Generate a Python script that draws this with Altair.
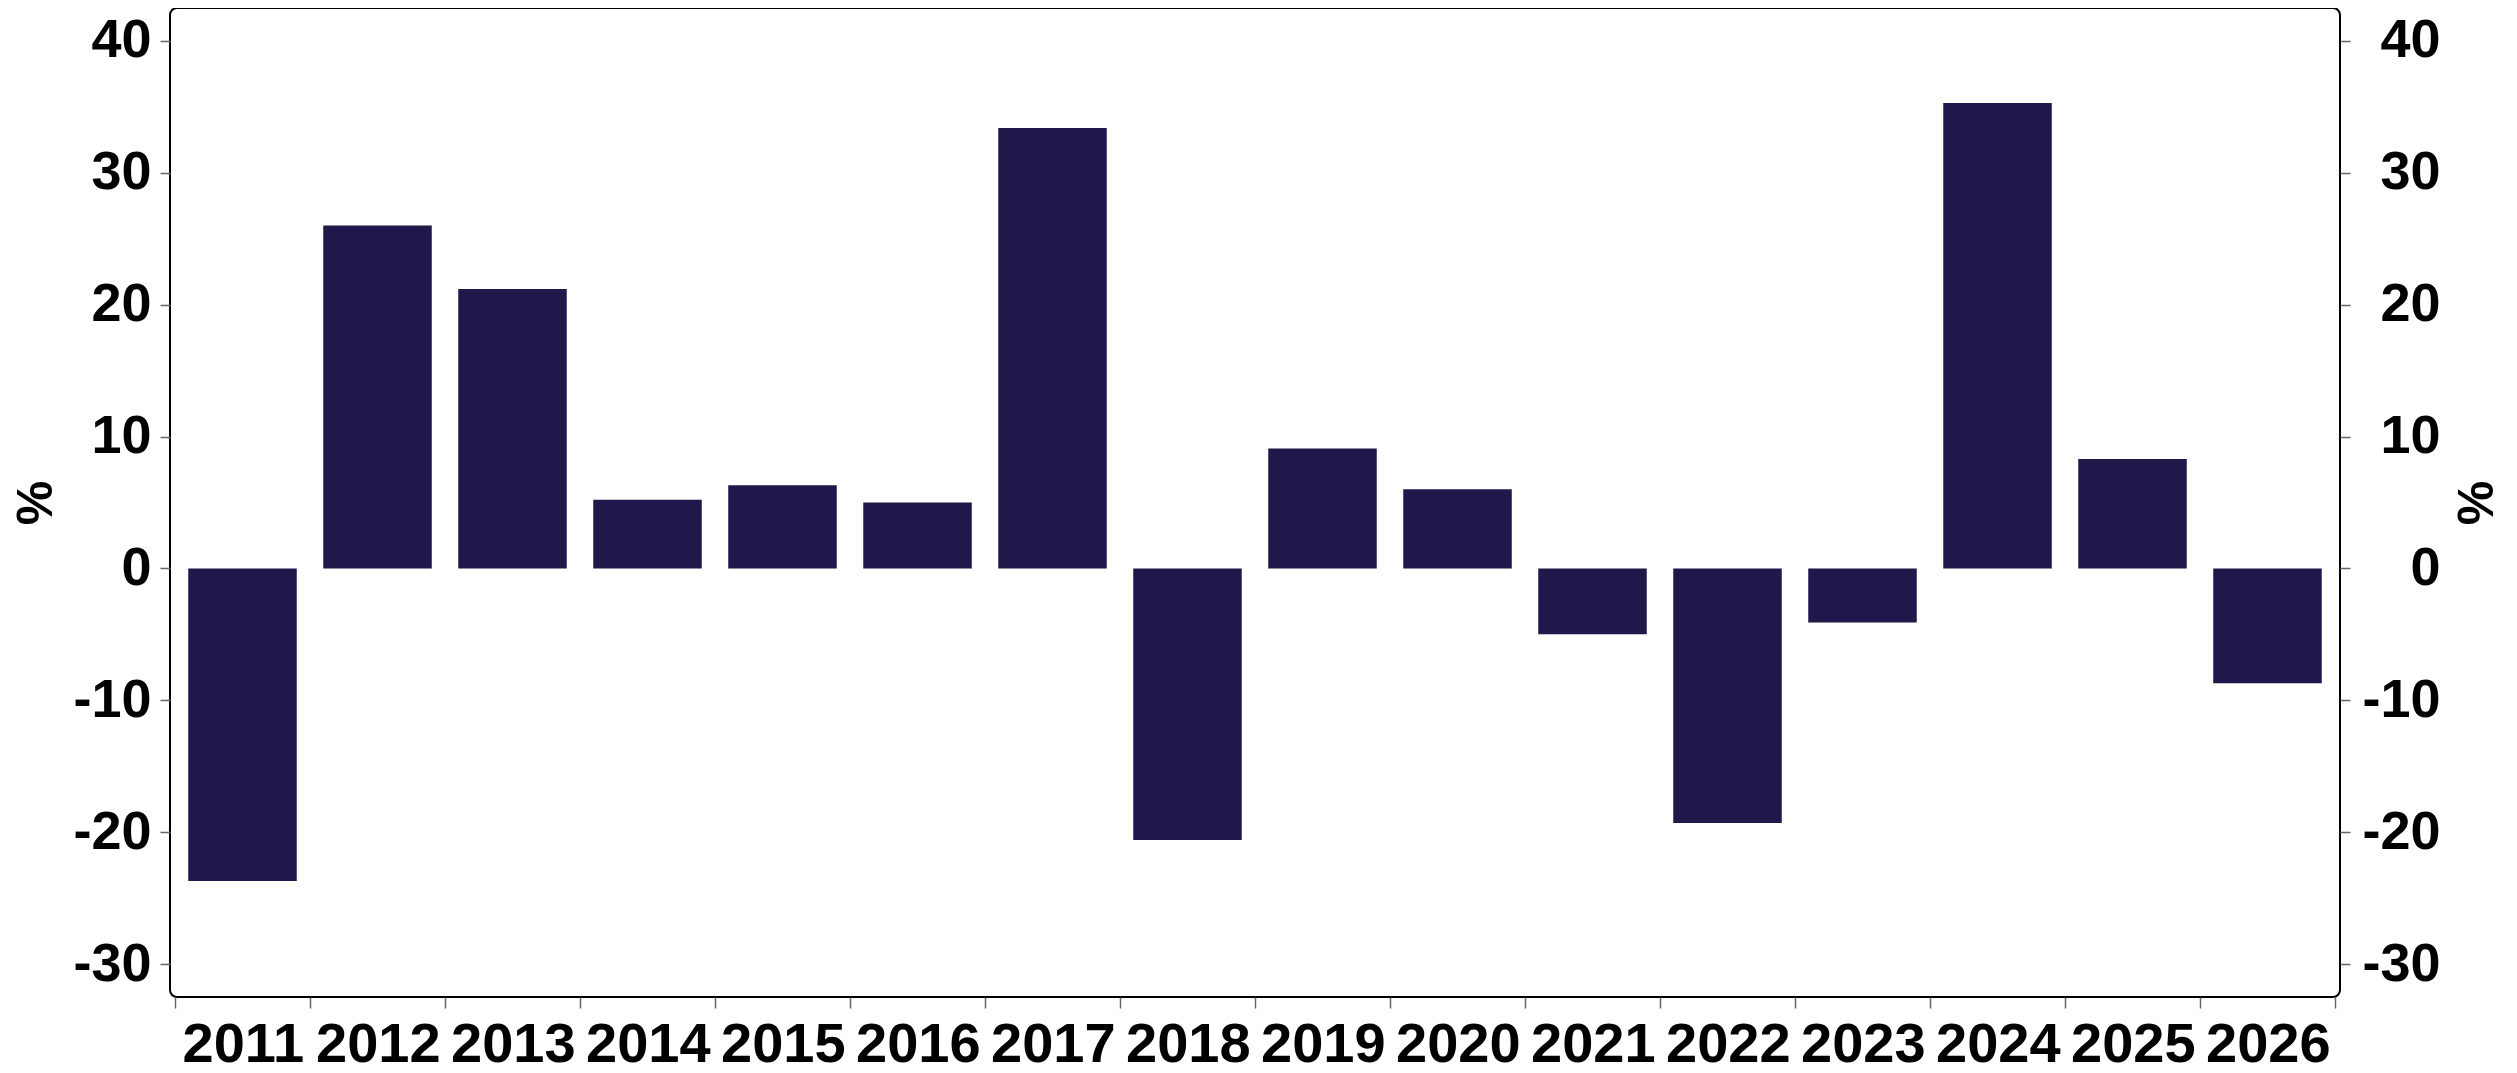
import altair as alt
import pandas as pd

years = list(range(2011, 2027))
values = [-23.7, 26.0, 21.2, 5.2, 6.3, 5.0, 33.4, -20.6, 9.1, 6.0, -5.0, -19.3, -4.1, 35.3, 8.3, -8.7]
y_ticks = [-30, -20, -10, 0, 10, 20, 30, 40]
x_tick_bounds = [y - 0.5 for y in years] + [years[-1] + 0.5]

df = pd.DataFrame({"year": years, "value": values})

BAR = "#20174a"
FONT = "Liberation Sans"
W, H = 2170, 989
step = W / len(years)

xscale = alt.Scale(domain=[years[0] - 0.5, years[-1] + 0.5], nice=False, zero=False)
yscale = alt.Scale(domain=[-32.5, 42.5], nice=False, zero=False)

x_axis = alt.Axis(
    values=x_tick_bounds,
    labelExpr="datum.value < 2026 ? toString(datum.value + 0.5) : ''",
    labelOffset=step / 2,
    labelFlush=False,
    labelOverlap=False,
    labelBound=False,
    grid=False,
    domain=False,
    tickSize=11,
    tickColor="#666666",
    tickWidth=1.5,
    labelPadding=9,
    labelFont=FONT,
    labelFontSize=56,
    labelFontWeight="bold",
    labelColor="black",
    title=None,
)

def y_axis(orient, pad, title_x):
    return alt.Axis(
        orient=orient,
        values=y_ticks,
        labelExpr="toString(datum.value)",
        grid=False,
        domain=False,
        tickSize=10,
        tickColor="#666666",
        tickWidth=1.5,
        labelPadding=pad,
        labelAlign="right",
        labelFont=FONT,
        labelFontSize=54,
        labelFontWeight="bold",
        labelColor="black",
        title="%",
        titleFont=FONT,
        titleFontSize=50,
        titleFontWeight="bold",
        titleColor="black",
        titleAngle=270,
        titleAlign="center",
        titleBaseline="middle",
        titleX=title_x,
        titleY=H / 2,
    )

bars = alt.Chart(df).mark_bar(size=step * 0.8, color=BAR).encode(
    x=alt.X("year:Q", scale=xscale, axis=x_axis),
    y=alt.Y("value:Q", scale=yscale, axis=y_axis("left", 9, -134)),
)

right = alt.Chart(df).mark_bar(size=step * 0.8, opacity=0).encode(
    x=alt.X("year:Q", scale=xscale, axis=x_axis),
    y=alt.Y("value:Q", scale=yscale, axis=y_axis("right", 90, 137)),
)

chart = (
    alt.layer(bars, right)
    .resolve_scale(y="independent")
    .properties(width=W, height=H, background="white",
                padding={"left": 3, "top": 0, "right": 0, "bottom": 0})
    .configure_view(stroke="black", strokeWidth=2, cornerRadius=7)
)

chart.save("out.html", embed_options={"renderer": "svg", "actions": False})
